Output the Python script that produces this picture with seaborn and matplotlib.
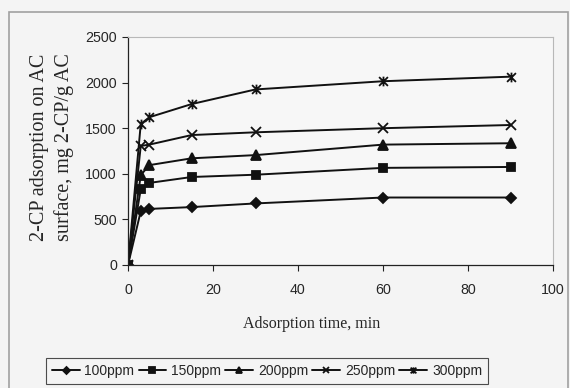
import numpy as np
import pandas as pd
import matplotlib
matplotlib.use("Agg")
import matplotlib.pyplot as plt
from matplotlib.path import Path
from matplotlib.patches import Rectangle
import seaborn as sns

# values
times = [0, 3, 5, 15, 30, 60, 90]
ppm100 = [0, 590, 615, 635, 675, 740, 740]
ppm150 = [0, 830, 900, 965, 990, 1065, 1075]
ppm200 = [0, 985, 1095, 1170, 1205, 1320, 1335]
ppm250 = [0, 1305, 1320, 1425, 1455, 1500, 1535]
ppm300 = [0, 1545, 1620, 1765, 1925, 2015, 2065]
series_names = ["100ppm", "150ppm", "200ppm", "250ppm", "300ppm"]
x_ticks = [0, 20, 40, 60, 80, 100]
y_ticks = [0, 500, 1000, 1500, 2000, 2500]

# excel style "star" marker: an x with a vertical bar
star = Path([(-1, -1), (1, 1), (-1, 1), (1, -1), (0, -1.1), (0, 1.1)],
            [Path.MOVETO, Path.LINETO, Path.MOVETO, Path.LINETO, Path.MOVETO, Path.LINETO])
markers = ["D", "s", "^", "x", star]
msizes = [5.5, 6, 6.5, 6.5, 7]

sns.set_style("white")
bg = "#f4f4f4"
fig = plt.figure(figsize=(5.7, 3.88), dpi=100, facecolor=bg)
ax = fig.add_axes([128 / 570, 1 - 265 / 388, 425 / 570, 228 / 388])
ax.set_facecolor("#f7f7f7")

for name, vals, m, ms in zip(series_names, [ppm100, ppm150, ppm200, ppm250, ppm300], markers, msizes):
    sns.lineplot(x=times, y=vals, label=name, color="#111111", marker=m,
                 markersize=ms, linewidth=1.4, markeredgecolor="#111111",
                 markerfacecolor="#111111", markeredgewidth=1.3, ax=ax)
handles, labels = ax.get_legend_handles_labels()
ax.get_legend().remove()

ax.set_xlim(0, 100)
ax.set_ylim(0, 2500)
ax.set_xticks(x_ticks)
ax.set_yticks(y_ticks)
ax.set_xlabel("")
ax.set_ylabel("")
for lab in ax.get_xticklabels() + ax.get_yticklabels():
    lab.set_fontfamily("Liberation Sans")
    lab.set_fontsize(10.3)
ax.tick_params(axis="x", direction="out", length=4, width=0.8, pad=9, color="#222222", bottom=True)
ax.tick_params(axis="y", direction="out", length=4, width=0.8, pad=4, color="#222222", left=True)
for s in ["left", "bottom"]:
    ax.spines[s].set_color("#222222")
    ax.spines[s].set_linewidth(0.9)
for s in ["top", "right"]:
    ax.spines[s].set_color("#b8b8b8")
    ax.spines[s].set_linewidth(0.8)

fig.text(52 / 570, 1 - 147 / 388, "2-CP adsorption on AC\nsurface, mg 2-CP/g AC",
         rotation=90, ha="center", va="center", family="Liberation Serif",
         fontsize=14.5, linespacing=1.4, multialignment="center")
fig.text(312 / 570, 1 - 324 / 388, "Adsorption time, min", ha="center", va="center",
         family="Liberation Serif", fontsize=11.5)

leg = fig.legend(handles, labels, loc="center", bbox_to_anchor=(267 / 570, 1 - 371 / 388),
                 ncol=5, frameon=True, fancybox=False, edgecolor="#222222",
                 prop={"family": "Liberation Sans", "size": 10},
                 handlelength=2.0, handletextpad=0.35, columnspacing=0.3,
                 borderpad=0.4, markerscale=0.65)
leg.get_frame().set_facecolor(bg)
leg.get_frame().set_linewidth(0.8)

# outer chart frame
fig.patches.append(Rectangle((9 / 570, -0.05), 559 / 570, 1.05 - 12 / 388,
                             transform=fig.transFigure, fill=False,
                             edgecolor="#a0a0a0", linewidth=1.2))

fig.savefig("out.png", dpi=100, facecolor=bg)
